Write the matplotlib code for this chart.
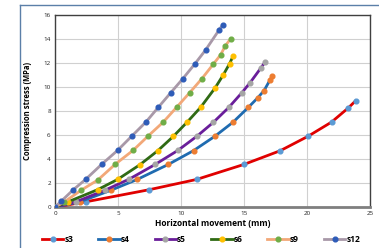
import matplotlib
matplotlib.use("Agg")
import matplotlib.pyplot as plt
from matplotlib.lines import Line2D

plt.rcParams['font.family'] = ['Open Sans', 'DejaVu Sans']

# readings taken off the reference chart
labels = ['s3', 's4', 's5', 's6', 's9', 's12']

x_s3 = [0, 2.46, 7.5, 11.24, 15.0, 17.9, 20.1, 21.96, 23.3, 23.87]
y_s3 = [0, 0.44, 1.45, 2.3, 3.55, 4.7, 5.9, 7.08, 8.27, 8.85]

x_s4 = [0, 2.0, 4.44, 6.53, 9.0, 11.0, 12.7, 14.15, 15.35, 16.1, 16.6, 17.08, 17.25]
y_s4 = [0, 0.45, 1.4, 2.3, 3.55, 4.7, 5.9, 7.08, 8.3, 9.1, 9.7, 10.6, 10.9]

x_s5 = [0, 1.7, 4.0, 5.9, 7.96, 9.76, 11.27, 12.58, 13.8, 14.82, 15.5, 16.36, 16.7]
y_s5 = [0, 0.45, 1.42, 2.33, 3.55, 4.72, 5.9, 7.06, 8.3, 9.5, 10.37, 11.6, 12.1]

x_s6 = [0, 1.0, 3.39, 4.97, 6.75, 8.17, 9.4, 10.5, 11.56, 12.7, 13.36, 13.86, 14.15]
y_s6 = [0, 0.42, 1.45, 2.3, 3.53, 4.7, 5.89, 7.08, 8.3, 9.9, 11.0, 11.94, 12.58]

x_s9 = [0, 0.7, 2.1, 3.4, 4.8, 6.2, 7.4, 8.6, 9.65, 10.7, 11.67, 12.57, 13.17, 13.5, 13.94]
y_s9 = [0, 0.4, 1.42, 2.25, 3.58, 4.72, 5.92, 7.08, 8.3, 9.53, 10.7, 11.9, 12.7, 13.4, 14.0]

x_s12 = [0, 0.48, 1.45, 2.43, 3.7, 4.97, 6.11, 7.22, 8.2, 9.2, 10.16, 11.09, 11.96, 13.0, 13.3]
y_s12 = [0, 0.47, 1.44, 2.3, 3.55, 4.72, 5.92, 7.08, 8.3, 9.53, 10.7, 11.9, 13.08, 14.7, 15.15]

xs = [x_s3, x_s4, x_s5, x_s6, x_s9, x_s12]
ys = [y_s3, y_s4, y_s5, y_s6, y_s9, y_s12]

line_colors = ['#E00000', '#1F6BB0', '#6A1E9A', '#2F6A14', '#F2A878', '#A898A8']
marker_colors = ['#5B9BD5', '#ED7D31', '#A5A5A5', '#FFC000', '#70AD47', '#2E5CB8']

fig = plt.figure(figsize=(3.79, 2.48), dpi=100)
ax = fig.add_axes([0.145, 0.165, 0.831, 0.775])

for xv, yv, lc, mc, lab in zip(xs, ys, line_colors, marker_colors, labels):
    ax.plot(xv, yv, color=lc, linewidth=2.0, marker='o', markersize=3.4,
            markerfacecolor=mc, markeredgecolor=mc, label=lab, zorder=3)

ax.set_xlim(0, 25)
ax.set_ylim(0, 16)
ax.set_xticks(range(0, 26, 5))
ax.set_yticks(range(0, 17, 2))
ax.grid(True, color='#D0D0D0', linewidth=0.8)
ax.set_axisbelow(True)
ax.tick_params(length=0, labelsize=4.5, colors='#222222', pad=3)
for sp in ax.spines.values():
    sp.set_color('#404040')
    sp.set_linewidth(1.0)
ax.spines['bottom'].set_color('#7F7F7F')
ax.spines['bottom'].set_linewidth(2.0)

ax.set_xlabel('Horizontal movement (mm)', fontsize=6, fontweight='bold', labelpad=2)
ax.set_ylabel('Compression stress (MPa)', fontsize=5.5, fontweight='bold', labelpad=8)

handles = [Line2D([0], [0], color=lc, linewidth=2.0, marker='o', markersize=3.4,
                  markerfacecolor=mc, markeredgecolor=mc)
           for lc, mc in zip(line_colors, marker_colors)]
fig.legend(handles, labels, loc='center', bbox_to_anchor=(0.53, 0.035), ncol=6,
           frameon=False, prop={'weight': 'bold', 'size': 6},
           handlelength=2.6, handletextpad=0.1, columnspacing=3.0)

# outer chart frame
fig.add_artist(Line2D([0.053, 1.0], [0.98, 0.98], color='#5B7FA8', linewidth=1.0,
                      transform=fig.transFigure))
fig.add_artist(Line2D([0.053, 0.053], [0.0, 0.98], color='#5B7FA8', linewidth=1.0,
                      transform=fig.transFigure))

fig.savefig('out.png', dpi=100)
